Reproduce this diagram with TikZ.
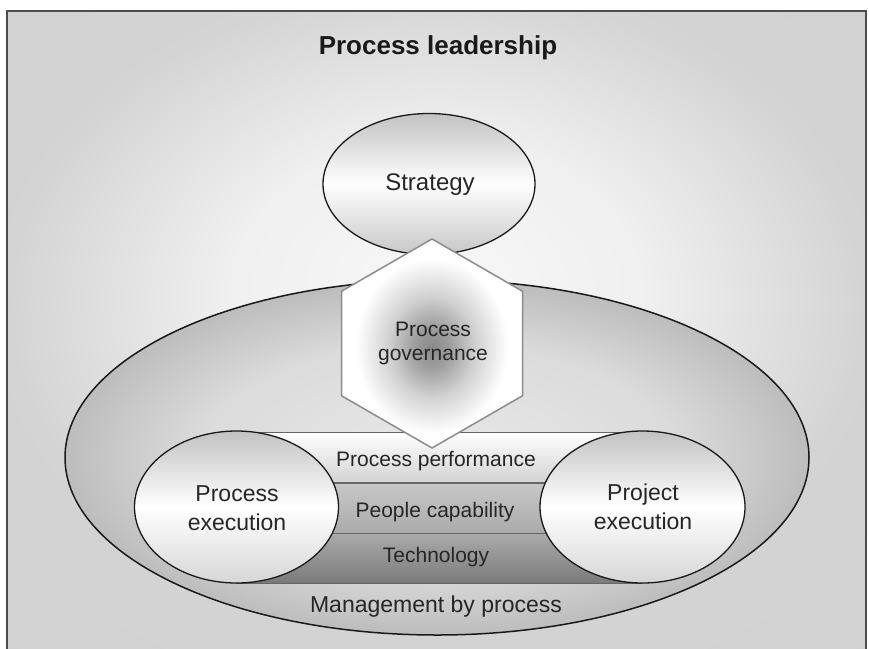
\documentclass[tikz,border=0pt]{standalone}
\usepackage{fontspec}
\setmainfont{Liberation Sans}
\usetikzlibrary{shapes.geometric}
\pgfdeclareradialshading{bgshade}{\pgfpoint{0bp}{4bp}}{color(0bp)=(black!3); color(12bp)=(black!6); color(25bp)=(black!17); color(50bp)=(black!19)}
\pgfdeclareradialshading{bigshade}{\pgfpoint{0bp}{0bp}}{color(0bp)=(black!9); color(16bp)=(black!14); color(25bp)=(black!26); color(50bp)=(black!26)}
\pgfdeclareradialshading{hexshade}{\pgfpoint{0bp}{-1bp}}{color(0bp)=(black!46); color(5bp)=(black!38); color(12bp)=(black!18); color(21bp)=(white); color(50bp)=(white)}
\begin{document}
\begin{tikzpicture}[x=1pt,y=-1pt,
  lbl/.style={font=\fontsize{21}{24}\selectfont, text=black!85, align=center, inner sep=0pt},
  biglbl/.style={font=\fontsize{23}{29}\selectfont, text=black!85, align=center, inner sep=0pt},
  oval/.style={ellipse, draw=black!90, line width=1.3pt, inner sep=0pt},
  bandbox/.style={rectangle, draw=black!60, line width=1pt, inner sep=0pt,
    minimum width=406pt, minimum height=50pt}
]
\useasboundingbox (0,0) rectangle (869,648);
% background frame
\path[shade, shading=bgshade] (7,11) rectangle (866,652);
\draw[line width=2pt, black!70] (7,652) -- (7,11) -- (866,11) -- (866,652);
\node[font=\bfseries\fontsize{26}{30}\selectfont, text=black!90, inner sep=0pt] (title) at (438,48) {Process leadership};
% management by process ellipse
\node[ellipse, draw=black!90, line width=1.5pt, inner sep=0pt, minimum width=744pt, minimum height=355pt,
  shade, shading=bigshade] (mgmt) at (437,457.5) {};
% bands
\node[bandbox, top color=white, bottom color=black!17] (perf) at (439.5,457) {};
\node[bandbox, top color=black!22, bottom color=black!33] (people) at (439.5,508) {};
\node[bandbox, top color=black!33, bottom color=black!52] (tech) at (439.5,558) {};
% side ovals
\node[oval, minimum width=204pt, minimum height=152pt,
  top color=black!24, bottom color=black!16, middle color=white] (pexec) at (236.5,507) {};
\node[oval, minimum width=205pt, minimum height=152pt,
  top color=black!24, bottom color=black!16, middle color=white] (jexec) at (642.5,507) {};
% strategy
\node[oval, minimum width=212pt, minimum height=141pt,
  top color=black!24, bottom color=black!22, middle color=white] (strat) at (429,184) {};
% hexagon
\coordinate (h1) at (432,239);
\coordinate (h2) at (522.5,291.25);
\coordinate (h3) at (522.5,395.75);
\coordinate (h4) at (432,448);
\coordinate (h5) at (341.5,395.75);
\coordinate (h6) at (341.5,291.25);
\path[draw=black!45, line width=1.5pt, shade, shading=hexshade] (h1) -- (h2) -- (h3) -- (h4) -- (h5) -- (h6) -- cycle;
% texts
\node[biglbl, font=\fontsize{24}{29}\selectfont] (strattxt) at (430,185) {Strategy};
\node[lbl] (govtxt) at (433,343) {Process\\governance};
\node[biglbl] (pexectxt) at (237,508) {Process\\execution};
\node[biglbl] (jexectxt) at (643,507) {Project\\execution};
\node[lbl] (perftxt) at (436,461) {Process performance};
\node[lbl] (peopletxt) at (435,512) {People capability};
\node[lbl] (techtxt) at (436,557) {Technology};
\node[biglbl] (mgmttxt) at (436,607) {Management by process};
\end{tikzpicture}
\end{document}
